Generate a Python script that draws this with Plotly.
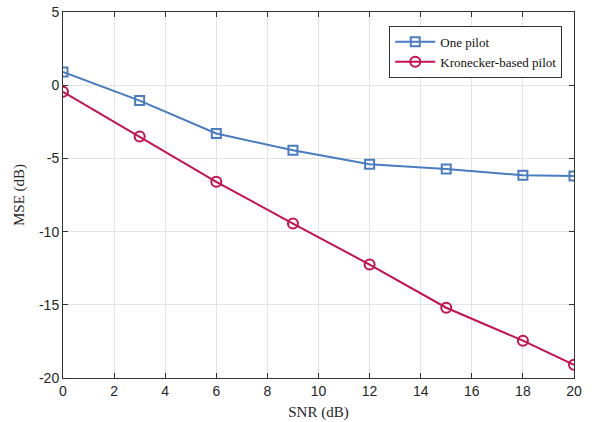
import plotly.graph_objects as go

snr = [0, 3, 6, 9, 12, 15, 18, 20]
one_pilot = [0.9, -1.05, -3.3, -4.45, -5.4, -5.72, -6.15, -6.2]
kron_pilot = [-0.45, -3.5, -6.6, -9.45, -12.25, -15.2, -17.45, -19.1]

x_ticks = list(range(0, 21, 2))
y_ticks = [-20, -15, -10, -5, 0, 5]
y_ticklabels = ["-20", "-15", "-10", "-5", "0", "5"]

blue = "#4A7CC0"
red = "#C4124D"
serif = "Liberation Serif, DejaVu Serif, serif"

fig = go.Figure()
fig.add_trace(go.Scatter(
    x=snr, y=one_pilot, mode="lines+markers", name="One pilot",
    line=dict(color=blue, width=2),
    marker=dict(symbol="square-open", size=9, color=blue, line=dict(width=2)),
))
fig.add_trace(go.Scatter(
    x=snr, y=kron_pilot, mode="lines+markers", name="Kronecker-based pilot",
    line=dict(color=red, width=2),
    marker=dict(symbol="circle-open", size=10, color=red, line=dict(width=2)),
))

axis_common = dict(
    showgrid=True, gridcolor="#E3E3E3", gridwidth=1,
    showline=True, linecolor="#333333", linewidth=1, mirror="ticks",
    ticks="inside", ticklen=5, tickcolor="#333333",
    zeroline=False, automargin=False,
    tickfont=dict(family="Liberation Sans, Arial", size=14, color="#262626"),
)

fig.update_layout(
    width=593, height=422,
    margin=dict(l=63, r=19, t=12, b=44),
    paper_bgcolor="white", plot_bgcolor="white",
    xaxis=dict(range=[0, 20], tickvals=x_ticks,
               title=dict(text="SNR (dB)", font=dict(family=serif, size=15, color="#262626"), standoff=8),
               **axis_common),
    yaxis=dict(range=[-20, 5], tickvals=y_ticks, ticktext=y_ticklabels,
               title=dict(text="MSE (dB)", font=dict(family=serif, size=15, color="#262626"), standoff=10),
               **axis_common),
    legend=dict(x=0.977, y=0.962, xanchor="right", yanchor="top",
                bgcolor="white", bordercolor="#333333", borderwidth=1,
                font=dict(family=serif, size=13, color="#111111"),
                tracegroupgap=0, itemwidth=40),
    showlegend=True,
)

fig.write_html("out.html")
